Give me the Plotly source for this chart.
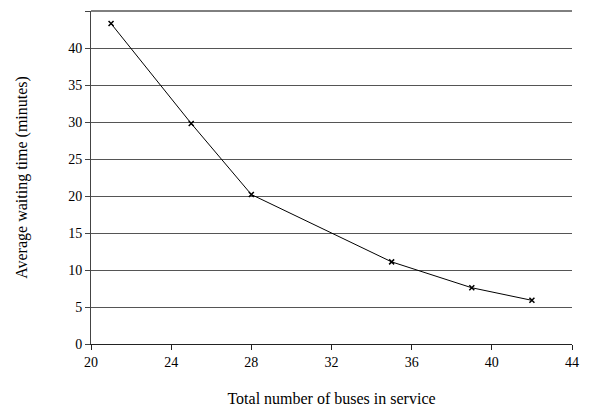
import plotly.graph_objects as go

# Fleet size vs. average passenger waiting time
buses = [21, 25, 28, 35, 39, 42]
wait_minutes = [43.3, 29.8, 20.2, 11.1, 7.6, 5.9]

x_ticks = [20, 24, 28, 32, 36, 40, 44]
y_ticks = [0, 5, 10, 15, 20, 25, 30, 35, 40]

font_family = "Liberation Serif, Times New Roman, serif"

fig = go.Figure(
    go.Scatter(
        x=buses,
        y=wait_minutes,
        mode="lines+markers",
        line=dict(color="black", width=1),
        marker=dict(symbol="x-thin", size=5, line=dict(color="black", width=1.5), color="black"),
        showlegend=False,
    )
)

# dark frame line along the top of the plotting area
fig.add_shape(
    type="line", xref="paper", yref="paper", x0=0, x1=1, y0=1, y1=1,
    line=dict(color="black", width=1), layer="below",
)

fig.update_layout(
    width=589,
    height=415,
    margin=dict(l=91, r=10, t=11, b=65),
    paper_bgcolor="white",
    plot_bgcolor="white",
    font=dict(family=font_family, size=14, color="black"),
    xaxis=dict(
        range=[20, 44],
        tickvals=x_ticks,
        ticks="outside",
        ticklen=5,
        tickcolor="#222",
        tickfont=dict(size=14),
        showgrid=False,
        showline=True,
        linecolor="#222",
        linewidth=1,
        zeroline=False,
        title=dict(text="Total number of buses in service", font=dict(size=16), standoff=24),
    ),
    yaxis=dict(
        range=[0, 45],
        tickvals=y_ticks + [45],
        ticktext=[str(v) for v in y_ticks] + [""],
        ticks="outside",
        ticklen=5,
        tickcolor="#444",
        tickfont=dict(size=14),
        showgrid=True,
        gridcolor="#555",
        gridwidth=1,
        showline=True,
        linecolor="#444",
        linewidth=1,
        zeroline=False,
        title=dict(text="Average waiting time (minutes)", font=dict(size=16), standoff=36),
    ),
)

fig.write_html("out.html")
